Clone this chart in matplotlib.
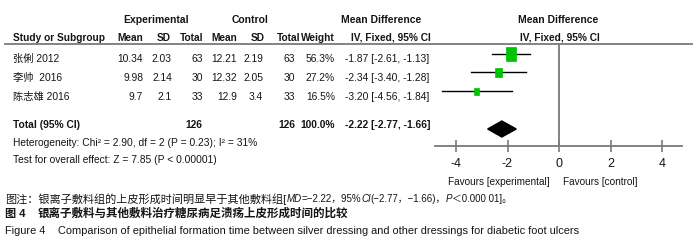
import matplotlib
matplotlib.use('Agg')
import matplotlib.pyplot as plt
from matplotlib.patches import Rectangle, Polygon

plt.rcParams['axes.unicode_minus'] = False
SANS = ['Liberation Sans', 'Noto Sans CJK SC']
plt.rcParams['font.family'] = SANS

# data
studies = ['张俐 2012', '李帅  2016', '陈志雄 2016']
exp_mean = [10.34, 9.98, 9.7]
exp_sd = [2.03, 2.14, 2.1]
exp_n = [63, 30, 33]
ctl_mean = [12.21, 12.32, 12.9]
ctl_sd = [2.19, 2.05, 3.4]
ctl_n = [63, 30, 33]
weight = [56.3, 27.2, 16.5]
md = [-1.87, -2.34, -3.20]
ci_lo = [-2.61, -3.40, -4.56]
ci_hi = [-1.13, -1.28, -1.84]
total_md, total_lo, total_hi = -2.22, -2.77, -1.66
ticks = [-4, -2, 0, 2, 4]

GREEN = '#00c400'
GRAY = '#7a7a7a'

fig = plt.figure(figsize=(7, 2.47), dpi=100)
ax = fig.add_axes([0, 0, 1, 1])
ax.set_xlim(0, 700)
ax.set_ylim(247, 0)
ax.axis('off')


def put(x, y, s, ha='left', bold=False, size=7.4, **kw):
    return ax.text(x, y, s, ha=ha, va='center', fontsize=size, family=SANS,
                   fontweight='bold' if bold else 'normal', color='#151515', **kw)


# header
put(156, 20, 'Experimental', ha='center', bold=True, size=7.5)
put(250, 20, 'Control', ha='center', bold=True, size=7.5)
put(381, 20, 'Mean Difference', ha='center', bold=True, size=7.5)
put(558, 20, 'Mean Difference', ha='center', bold=True, size=7.5)
put(13, 38, 'Study or Subgroup', bold=True, size=7.3)
for x, s in [(143, 'Mean'), (171, 'SD'), (203, 'Total'), (237, 'Mean'),
             (265, 'SD'), (300, 'Total'), (335, 'Weight')]:
    put(x, 38, s, ha='right', bold=True, size=7.3)
put(391, 38, 'IV, Fixed, 95% CI', ha='center', bold=True, size=7.3)
put(560, 38, 'IV, Fixed, 95% CI', ha='center', bold=True, size=7.3)
ax.plot([5, 692], [44, 44], color=GRAY, lw=1.3)

# study rows
row_y = [59, 78, 97]
for i, y in enumerate(row_y):
    put(13, y, studies[i])
    put(143, y, str(exp_mean[i]), ha='right')
    put(172, y, str(exp_sd[i]), ha='right')
    put(203, y, str(exp_n[i]), ha='right')
    put(237, y, str(ctl_mean[i]), ha='right')
    put(263, y, str(ctl_sd[i]), ha='right')
    put(295, y, str(ctl_n[i]), ha='right')
    put(335, y, f'{weight[i]:.1f}%', ha='right')
    put(345, y, f'{md[i]:.2f} [{ci_lo[i]:.2f}, {ci_hi[i]:.2f}]')

# total row
put(13, 125, 'Total (95% CI)', bold=True)
put(202, 125, str(sum(exp_n)), ha='right', bold=True)
put(295, 125, str(sum(ctl_n)), ha='right', bold=True)
put(335, 125, f'{sum(weight):.1f}%', ha='right', bold=True)
put(345, 125, f'{total_md:.2f} [{total_lo:.2f}, {total_hi:.2f}]', bold=True)
put(13, 143, 'Heterogeneity: Chi² = 2.90, df = 2 (P = 0.23); I² = 31%')
put(13, 160, 'Test for overall effect: Z = 7.85 (P < 0.00001)')

# forest panel (x in mean-difference units, y in pixel rows)
px0, px1, pzero, pscale = 435, 682, 559, 25.75
fx = fig.add_axes([px0 / 700, (247 - 146) / 247, (px1 - px0) / 700, 146 / 247])
fx.set_xlim((px0 - pzero) / pscale, (px1 - pzero) / pscale)
fx.set_ylim(146, 0)
fx.patch.set_visible(False)
for s in ['top', 'left', 'right']:
    fx.spines[s].set_visible(False)
fx.spines['bottom'].set_color(GRAY)
fx.spines['bottom'].set_linewidth(1.3)
fx.set_yticks([])
fx.set_xticks(ticks)
fx.set_xticklabels([str(t) for t in ticks])
fx.tick_params(axis='x', direction='inout', length=9, width=1.2, color=GRAY,
               pad=4, labelsize=9, labelcolor='#151515')
fx.axvline(0, ymin=0, ymax=(146 - 44) / 146, color=GRAY, lw=1.3)

mark_y = [54, 72.5, 91.5]
for i, y in enumerate(mark_y):
    fx.plot([ci_lo[i], ci_hi[i]], [y, y], color='black', lw=1)
    k = (weight[i] / max(weight)) ** 0.5
    w, h = 0.39 * k, 14 * k
    fx.add_patch(Rectangle((md[i] - w / 2, y - h / 2), w, h, facecolor=GREEN,
                           edgecolor=GREEN, lw=0.5, zorder=3))
dy = 129
fx.add_patch(Polygon([(total_lo, dy), (total_md, dy - 8), (total_hi, dy),
                      (total_md, dy + 8)], closed=True, facecolor='black',
                     edgecolor='black', zorder=3))

put(550, 182, 'Favours [experimental]', ha='right', size=7.2)
put(563, 182, 'Favours [control]', size=7.2)

# captions
fig.canvas.draw()
renderer = fig.canvas.get_renderer()
pieces = [('图注：银离子敷料组的上皮形成时间明显早于其他敷料组[', 'normal', 8),
          ('MD', 'italic', 7), ('=−2.22，95%', 'normal', 7), ('CI', 'italic', 7),
          ('(−2.77，−1.66)，', 'normal', 7), ('P', 'italic', 7),
          ('＜0.000 01]。', 'normal', 7)]
x = 5
for s, st, sz in pieces:
    t = put(x, 199, s, size=sz, style=st)
    x += t.get_window_extent(renderer).width
put(5, 214, '图 4', size=8, bold=True)
put(38, 214, '银离子敷料与其他敷料治疗糖尿病足溃疡上皮形成时间的比较', size=8.3,
    bold=True)
put(5, 231, 'Figure 4', size=7.9)
put(58, 231, 'Comparison of epithelial formation time between silver dressing '
    'and other dressings for diabetic foot ulcers', size=7.9)

fig.savefig('out.png', dpi=100)
